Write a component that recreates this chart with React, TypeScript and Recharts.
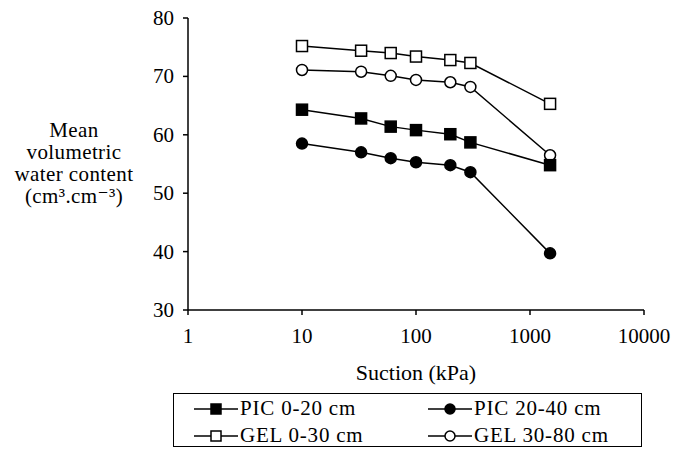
import React from 'react';
import { LineChart, Line, XAxis, YAxis, Label } from 'recharts';

const suction = [10, 33, 60, 100, 200, 300, 1500];
const pic0_20 = [64.3, 62.8, 61.4, 60.8, 60.1, 58.7, 54.8];
const pic20_40 = [58.5, 57.0, 56.0, 55.3, 54.8, 53.6, 39.7];
const gel0_30 = [75.2, 74.4, 74.0, 73.4, 72.8, 72.3, 65.3];
const gel30_80 = [71.1, 70.8, 70.1, 69.4, 69.0, 68.2, 56.5];
const xTicks = [1, 10, 100, 1000, 10000];
const yTicks = [30, 40, 50, 60, 70, 80];

const data = suction.map((s, i) => ({
  s,
  pic0_20: pic0_20[i],
  pic20_40: pic20_40[i],
  gel0_30: gel0_30[i],
  gel30_80: gel30_80[i],
}));

const FONT = "'Liberation Serif', 'DejaVu Serif', serif";

const squareDot = (filled: boolean) => (props: any) => {
  const { cx, cy, index } = props;
  if (cx == null || cy == null) return <g key={index} />;
  const s = 11;
  return (
    <rect
      key={`sq-${index}`}
      x={cx - s / 2}
      y={cy - s / 2}
      width={s}
      height={s}
      fill={filled ? '#000' : '#fff'}
      stroke="#000"
      strokeWidth={1.5}
    />
  );
};

const circleDot = (filled: boolean) => (props: any) => {
  const { cx, cy, index } = props;
  if (cx == null || cy == null) return <g key={index} />;
  return (
    <circle
      key={`ci-${index}`}
      cx={cx}
      cy={cy}
      r={5.5}
      fill={filled ? '#000' : '#fff'}
      stroke="#000"
      strokeWidth={1.5}
    />
  );
};

const XTick = (props: any) => {
  const { x, y, payload } = props;
  return (
    <text x={x} y={y + 26} textAnchor="middle" fontSize={21} fill="#000" style={{ fontFamily: FONT }}>
      {String(payload.value)}
    </text>
  );
};

const YTick = (props: any) => {
  const { x, y, payload } = props;
  return (
    <text x={x - 7} y={y + 7} textAnchor="end" fontSize={21} fill="#000" style={{ fontFamily: FONT }}>
      {String(payload.value)}
    </text>
  );
};

const XLabel = (props: any) => {
  const vb = props.viewBox || {};
  const cx = (vb.x ?? 188) + (vb.width ?? 456) / 2;
  return (
    <text x={cx} y={380} textAnchor="middle" fontSize={22} fill="#000" style={{ fontFamily: FONT }}>
      Suction (kPa)
    </text>
  );
};

const YLabel = () => {
  const lines = ['Mean', 'volumetric', 'water content', '(cm³.cm⁻³)'];
  return (
    <text x={74} y={137} textAnchor="middle" fontSize={21} fill="#000" style={{ fontFamily: FONT, letterSpacing: 0.4 }}>
      {lines.map((l, i) => (
        <tspan key={i} x={74} dy={i === 0 ? 0 : 22}>
          {l}
        </tspan>
      ))}
    </text>
  );
};

const legendItems = [
  { label: 'PIC 0-20 cm', shape: 'square', filled: true },
  { label: 'PIC 20-40 cm', shape: 'circle', filled: true },
  { label: 'GEL 0-30 cm', shape: 'square', filled: false },
  { label: 'GEL 30-80 cm', shape: 'circle', filled: false },
];

const LegendIcon = ({ shape, filled }: { shape: string; filled: boolean }) => (
  <svg width={44} height={14} style={{ display: 'block' }}>
    <line x1={0} y1={7} x2={44} y2={7} stroke="#000" strokeWidth={1.5} />
    {shape === 'square' ? (
      <rect x={17} y={2} width={10} height={10} fill={filled ? '#000' : '#fff'} stroke="#000" strokeWidth={1.5} />
    ) : (
      <circle cx={22} cy={7} r={5} fill={filled ? '#000' : '#fff'} stroke="#000" strokeWidth={1.5} />
    )}
  </svg>
);

export default function App() {
  return (
    <div style={{ position: 'absolute', left: 0, top: 0, width: 676, height: 456, background: '#fff', fontFamily: FONT }}>
      <LineChart
        width={676}
        height={456}
        data={data}
        margin={{ top: 18, right: 32, bottom: 116, left: 0 }}
      >
        <XAxis
          dataKey="s"
          type="number"
          scale="log"
          domain={[1, 10000]}
          ticks={xTicks}
          allowDataOverflow
          height={30}
          stroke="#000"
          strokeWidth={1.5}
          tickSize={5}
          tick={<XTick />}
        >
          <Label content={<XLabel />} />
        </XAxis>
        <YAxis
          type="number"
          domain={[30, 80]}
          ticks={yTicks}
          width={188}
          stroke="#000"
          strokeWidth={1.5}
          tickSize={5}
          tick={<YTick />}
        >
          <Label content={<YLabel />} />
        </YAxis>
        <Line dataKey="gel0_30" stroke="#000" strokeWidth={1.5} dot={squareDot(false)} isAnimationActive={false} />
        <Line dataKey="gel30_80" stroke="#000" strokeWidth={1.5} dot={circleDot(false)} isAnimationActive={false} />
        <Line dataKey="pic0_20" stroke="#000" strokeWidth={1.5} dot={squareDot(true)} isAnimationActive={false} />
        <Line dataKey="pic20_40" stroke="#000" strokeWidth={1.5} dot={circleDot(true)} isAnimationActive={false} />
      </LineChart>
      <div
        style={{
          position: 'absolute',
          left: 173,
          top: 393,
          width: 469,
          height: 54,
          boxSizing: 'border-box',
          border: '1.5px solid #000',
          fontFamily: FONT,
          fontSize: 21,
          letterSpacing: 0.8,
          color: '#000',
          display: 'grid',
          gridTemplateColumns: '234px 1fr',
          gridTemplateRows: '27px 27px',
          paddingTop: 1,
          overflow: 'visible',
        }}
      >
        {legendItems.map((it, i) => (
          <div
            key={i}
            style={{
              display: 'flex',
              alignItems: 'center',
              paddingLeft: 20,
              whiteSpace: 'nowrap',
            }}
          >
            <LegendIcon shape={it.shape} filled={it.filled} />
            <span style={{ marginLeft: 2 }}>{it.label}</span>
          </div>
        ))}
      </div>
    </div>
  );
}
